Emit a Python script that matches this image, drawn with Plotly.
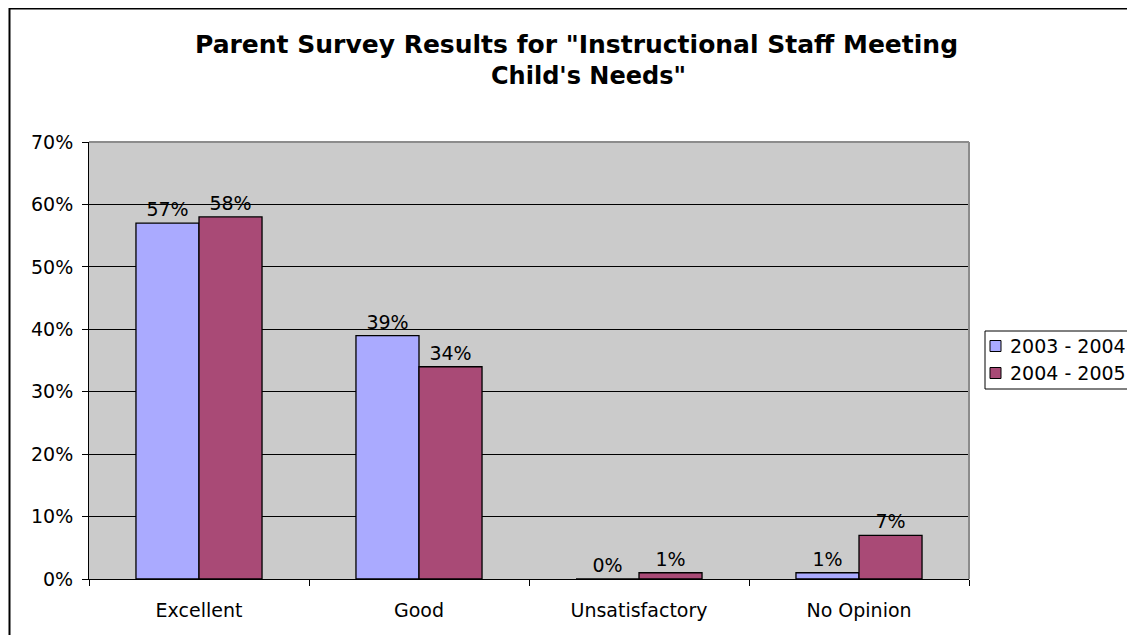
import plotly.graph_objects as go

categories = ["Excellent", "Good", "Unsatisfactory", "No Opinion"]
series_names = ["2003 - 2004", "2004 - 2005"]
values_2003_2004 = [0.57, 0.39, 0.00, 0.01]
values_2004_2005 = [0.58, 0.34, 0.01, 0.07]
y_ticks = [0, 0.1, 0.2, 0.3, 0.4, 0.5, 0.6, 0.7]
title_lines = ["Parent Survey Results for \"Instructional Staff Meeting", "Child's Needs\""]

OFF = 8  # page body margin
W, H = 1135 - OFF, 635 - OFF
L, R, T, B = 89 - OFF, 969 - OFF, 142 - OFF, 579 - OFF  # plot area edges (figure px)
pw, ph = R - L, B - T

FONT = "DejaVu Sans"
colors = ["#AAAAFF", "#A94A76"]
FS = 19


def px_x(sx):
    """screen x -> paper fraction"""
    return (sx - OFF - L) / pw


def px_y(sy):
    """screen y -> paper fraction"""
    return (B - (sy - OFF)) / ph


fig = go.Figure()
for name, vals, col in zip(series_names, [values_2003_2004, values_2004_2005], colors):
    fig.add_trace(go.Bar(
        x=categories, y=vals, name=name,
        marker=dict(color=col, line=dict(color="black", width=1.3)),
        text=[f"{v:.0%}" for v in vals], textposition="outside",
        textfont=dict(family=FONT, size=FS, color="black"),
        cliponaxis=False, showlegend=False,
    ))

fig.update_layout(
    width=W, height=H,
    margin=dict(l=L, r=W - R, t=T, b=H - B, autoexpand=False),
    paper_bgcolor="white", plot_bgcolor="#CBCBCB",
    barmode="group", bargap=0.427, bargroupgap=0,
    font=dict(family=FONT, size=FS, color="black"),
    showlegend=False,
)

fig.update_xaxes(
    type="category", tickson="boundaries", ticks="outside", ticklen=6,
    tickcolor="black", showline=True, linecolor="black", linewidth=1,
    showgrid=False, ticklabelstandoff=14,
    tickfont=dict(family=FONT, size=FS, color="black"),
)
fig.update_yaxes(
    range=[0, 0.7], tickvals=y_ticks, tickformat=".0%",
    ticks="outside", ticklen=6, tickcolor="black",
    showline=True, linecolor="black", linewidth=1,
    showgrid=True, gridcolor="black", gridwidth=1, zeroline=False,
    ticklabelstandoff=5,
    tickfont=dict(family=FONT, size=FS, color="black"),
)

# title (two centred lines)
for line, cx, cy, fs in zip(title_lines, [576, 588], [44, 75.5], [25, 24]):
    fig.add_annotation(
        text=f"<b>{line}</b>", xref="paper", yref="paper",
        x=px_x(cx), y=px_y(cy), xanchor="center", yanchor="middle",
        showarrow=False, borderpad=0,
        font=dict(family=FONT, size=fs, color="black"),
    )

# plot-area border (top and right in gray)
fig.add_shape(type="line", xref="paper", yref="paper", x0=0, x1=1, y0=1, y1=1,
              line=dict(color="#8C8C8C", width=2), layer="above")
fig.add_shape(type="line", xref="paper", yref="paper", x0=1, x1=1, y0=0, y1=1,
              line=dict(color="#8C8C8C", width=2), layer="above")
# outer chart frame
fig.add_shape(type="rect", xref="paper", yref="paper",
              x0=px_x(9.5), x1=px_x(1150), y0=px_y(650), y1=px_y(8.5),
              line=dict(color="black", width=2), layer="above")

# legend
fig.add_shape(type="rect", xref="paper", yref="paper",
              x0=px_x(985), x1=px_x(1150), y0=px_y(389), y1=px_y(331),
              line=dict(color="black", width=1), fillcolor="white", layer="above")
for name, col, sy in zip(series_names, colors, [346, 373]):
    fig.add_shape(type="rect", xref="paper", yref="paper",
                  x0=px_x(990), x1=px_x(1001), y0=px_y(sy + 5.5), y1=px_y(sy - 5.5),
                  line=dict(color="black", width=1), fillcolor=col, layer="above")
    fig.add_annotation(
        text=name, xref="paper", yref="paper", x=px_x(1008), y=px_y(sy),
        xanchor="left", yanchor="middle", showarrow=False,
        font=dict(family=FONT, size=FS, color="black"),
    )

fig.write_html("out.html")
